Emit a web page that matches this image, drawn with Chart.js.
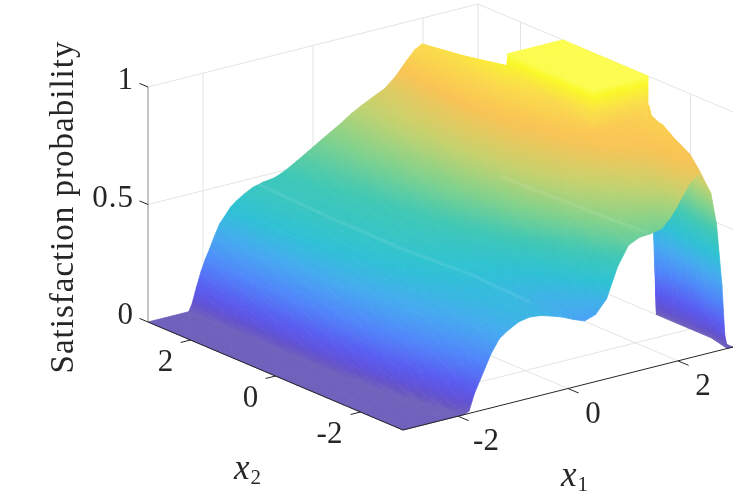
<!DOCTYPE html>
<html lang="en">
<head>
<meta charset="UTF-8">
<title>Satisfaction probability</title>
<style>
  html, body { margin: 0; padding: 0; background: #fff; }
  #wrap { width: 747px; height: 504px; }
</style>
<script src="https://cdn.jsdelivr.net/npm/chart.js"></script>
</head>
<body>
<div id="wrap"><canvas id="chart" width="747" height="504"></canvas></div>
<script>
// surface: one row of z per x2 value, one column per x1 value
const x1Grid = [-3, -2.26, -2.2, -2.12, -2.04, -1.96, -1.88, -1.8, -1.7, -1.6, -1.5, -1.4, -1.25, -1.1, -0.9, -0.7, -0.5, -0.3, -0.1, 0.1, 0.3, 0.5, 0.7, 0.9, 1.1, 1.3, 1.5, 1.7, 1.85, 1.98, 2, 2.2, 2.4, 2.6, 2.7, 2.8, 2.85, 2.9, 3];
const x2Grid = [3, 2, 1.02, 1, 0, -0.5, -1, -1.02, -1.2, -1.6, -2, -2.5, -3];
const zRows = [
  [0, 0, .03, .095, .155, .205, .245, .29, .34, .37, .40, .42, .442, .46, .472, .478, .498, .525, .553, .582, .61, .638, .67, .695, .718, .74, .78, .835, .873, .89, .5, .2, 0, 0, 0, 0, 0, 0, 0],
  [0, 0, .03, .09, .15, .20, .24, .285, .33, .365, .395, .415, .44, .455, .468, .476, .493, .515, .545, .58, .615, .65, .685, .715, .74, .765, .80, .85, .89, .915, .5, .2, 0, 0, 0, 0, 0, 0, 0],
  [0, 0, .025, .085, .14, .19, .23, .27, .315, .35, .38, .40, .425, .44, .455, .465, .48, .50, .53, .57, .61, .65, .69, .725, .755, .78, .815, .86, .915, .95, .5, .2, 0, 0, 0, 0, 0, 0, 0],
  [0, 0, .025, .085, .14, .19, .23, .27, .315, .35, .38, .40, .425, .44, .455, .465, .48, .50, .53, .57, .61, .65, .69, .725, .755, .78, .815, .86, .915, .95, 1, 1, 1, 1, 1, 1, 1, 1, 1],
  [0, 0, .02, .07, .12, .17, .21, .245, .29, .325, .35, .37, .395, .415, .435, .45, .46, .475, .505, .55, .595, .64, .68, .715, .745, .77, .795, .83, .865, .885, 1, 1, 1, 1, 1, 1, 1, 1, 1],
  [0, 0, .012, .055, .10, .15, .19, .225, .27, .305, .33, .35, .375, .395, .415, .43, .44, .452, .48, .52, .57, .62, .665, .705, .735, .76, .78, .81, .84, .86, 1, 1, 1, 1, 1, 1, 1, 1, 1],
  [0, 0, 0, .03, .08, .13, .17, .205, .25, .285, .31, .33, .355, .375, .395, .405, .415, .425, .44, .48, .535, .595, .645, .69, .72, .745, .765, .79, .81, .82, 1, 1, 1, 1, 1, 1, 1, 1, 1],
  [0, 0, 0, .03, .08, .13, .17, .205, .25, .285, .31, .33, .355, .375, .395, .405, .415, .425, .44, .48, .535, .595, .645, .69, .72, .745, .765, .79, .81, .82, .82, .82, .83, .84, .845, .85, .86, .87, .876],
  [0, 0, 0, .025, .07, .12, .16, .195, .24, .275, .30, .32, .345, .365, .385, .395, .405, .41, .425, .46, .52, .585, .635, .68, .71, .735, .755, .78, .80, .81, .81, .82, .825, .835, .84, .85, .85, .855, 0],
  [0, 0, 0, 0, .04, .085, .125, .165, .21, .245, .275, .30, .33, .35, .37, .38, .385, .39, .395, .42, .47, .54, .60, .645, .68, .705, .73, .755, .775, .785, .79, .80, .805, .825, .84, .85, .83, .62, 0],
  [0, 0, 0, 0, 0, .04, .09, .135, .18, .22, .25, .275, .31, .335, .355, .365, .37, .365, .36, .37, .40, .47, .55, .61, .645, .67, .695, .72, .74, .75, .755, .775, .80, .82, .83, .74, .60, .42, 0],
  [0, 0, 0, 0, 0, 0, .04, .085, .13, .175, .215, .25, .295, .32, .345, .355, .355, .345, .33, .325, .335, .385, .46, .55, .60, .625, .64, .665, .69, .71, .715, .76, .795, .805, .70, .50, .28, .12, 0],
  [0, 0, 0, 0, 0, 0, 0, .01, .08, .13, .18, .23, .285, .31, .336, .345, .34, .326, .31, .288, .27, .285, .34, .465, .545, .567, .57, .58, .615, .656, .665, .74, .78, .675, .54, .27, .06, 0, 0]
];

// the two pale creases running across the surface
const creaseA = { x1: [-1, -0.87, -0.73, -0.59, -0.47], x2: [3, 1.5, 0, -1.5, -2.7], z: [.469, .436, .411, .403, .373] };
const creaseB = { x1: [0.7, 0.95, 1.2, 1.45], x2: [-0.5, -1, -2, -3], z: [.67, .636, .604, .577] };

const x1Ticks = [-2, 0, 2];
const x2Ticks = [-2, 0, 2];
const zTicks = [0, 0.5, 1];
const zTickLabels = ['0', '0.5', '1'];
const zLabel = 'Satisfaction probability';

// parula as it looks with the face alpha on white
const palettePos = [0, .015, .05, .1, .2, .3, .4, .5, .6, .7, .8, .9, .97, .995, 1];
const paletteRgb = [
  [112, 98, 188], [102, 84, 192], [96, 82, 220], [90, 92, 240], [80, 135, 250], [70, 170, 240], [46, 194, 212],
  [65, 200, 180], [130, 210, 140], [198, 210, 110], [250, 195, 85], [250, 222, 75], [250, 248, 40], [250, 250, 40], [252, 252, 80]
];

// view of the 3D box: x1, x2 and z unit vectors on the flat scales
const origin = { x: 403, y: 430 };
const unitX1 = { x: 55, y: -13.83 };
const unitX2 = { x: -42.5, y: -18 };
const unitZ = -235;

function project(x1, x2, z) {
  return {
    x: origin.x + (x1 + 3) * unitX1.x + (x2 + 3) * unitX2.x,
    y: origin.y + (x1 + 3) * unitX1.y + (x2 + 3) * unitX2.y + z * unitZ
  };
}

function colorAt(z) {
  const v = Math.min(Math.max(z, 0), 1);
  let i = 0;
  while (i < palettePos.length - 2 && v > palettePos[i + 1]) i++;
  const f = (v - palettePos[i]) / (palettePos[i + 1] - palettePos[i]);
  const a = paletteRgb[i], b = paletteRgb[i + 1];
  return 'rgb(' + [0, 1, 2].map(k => Math.round(a[k] + (b[k] - a[k]) * f)).join(',') + ')';
}

// gradient running along the slope of z over one projected triangle
function triPaint(context, verts) {
  const chart = context.chart;
  const xs = chart.scales.x, ys = chart.scales.y;
  const p = verts.map(v => ({ x: xs.getPixelForValue(v.x), y: ys.getPixelForValue(v.y), z: v.z }));
  const zMin = Math.min(p[0].z, p[1].z, p[2].z), zMax = Math.max(p[0].z, p[1].z, p[2].z);
  if (zMax - zMin < 1e-4 || !isFinite(p[0].x + p[0].y)) return colorAt((zMin + zMax) / 2);
  const ux = p[1].x - p[0].x, uy = p[1].y - p[0].y, uz = p[1].z - p[0].z;
  const vx = p[2].x - p[0].x, vy = p[2].y - p[0].y, vz = p[2].z - p[0].z;
  const det = ux * vy - uy * vx;
  if (Math.abs(det) < 1e-6) return colorAt((zMin + zMax) / 2);
  const gx = (uz * vy - vz * uy) / det, gy = (ux * vz - vx * uz) / det;
  const g2 = gx * gx + gy * gy;
  const low = p.find(q => q.z === zMin);
  const span = zMax - zMin;
  const grad = chart.ctx.createLinearGradient(low.x, low.y, low.x + gx * span / g2, low.y + gy * span / g2);
  const steps = Math.max(1, Math.ceil(span * 30));
  for (let s = 0; s <= steps; s++) grad.addColorStop(s / steps, colorAt(zMin + span * s / steps));
  return grad;
}

function triDataset(a, b, c) {
  const verts = [a, b, c];
  const paint = context => triPaint(context, verts);
  return {
    data: [a, b, c, a].map(v => ({ x: v.x, y: v.y })),
    showLine: true, fill: 'shape', tension: 0, pointRadius: 0,
    borderWidth: 0.8, borderJoinStyle: 'round',
    backgroundColor: paint, borderColor: paint, clip: false
  };
}

function lineDataset(points, color, width) {
  return {
    data: points.map(v => ({ x: v.x, y: v.y })),
    showLine: true, fill: false, tension: 0, pointRadius: 0,
    borderWidth: width, borderColor: color, clip: false
  };
}

function segment(from, to, color, width) {
  return lineDataset([from, to], color, width);
}

const gridColor = '#e4e4e4';
const axisColor = '#262626';
const zAxisColor = '#8a8a8a';
const creaseColor = 'rgba(255,255,255,0.08)';

const axisSets = [];
const gridSets = [];
const surfaceSets = [];

// front axes first so they stay on top, chart.js paints dataset 0 last
x1Ticks.forEach(t => axisSets.push(segment(project(t, -3, 0), project(t, -3.25, 0), axisColor, 1)));
x2Ticks.forEach(t => axisSets.push(segment(project(-3, t, 0), project(-3.18, t, 0), axisColor, 1)));
zTicks.forEach(t => axisSets.push(segment(project(-3, 3, t), project(-3, 3.2, t), axisColor, 1)));
axisSets.push(segment(project(-3, -3, 0), project(3, -3, 0), axisColor, 1));
axisSets.push(segment(project(-3, -3, 0), project(-3, 3, 0), axisColor, 1));
axisSets.push(segment(project(-3, 3, 0), project(-3, 3, 1), zAxisColor, 1));

[creaseA, creaseB].forEach(c => {
  axisSets.push(lineDataset(c.x1.map((x, i) => project(x, c.x2[i], c.z[i])), creaseColor, 3.5));
});

// surface, nearest corner first
for (let r = x2Grid.length - 2; r >= 0; r--) {
  for (let c = 0; c < x1Grid.length - 1; c++) {
    const v = (ri, ci) => Object.assign(project(x1Grid[ci], x2Grid[ri], zRows[ri][ci]), { z: zRows[ri][ci] });
    surfaceSets.push(triDataset(v(r + 1, c), v(r + 1, c + 1), v(r, c + 1)));
    surfaceSets.push(triDataset(v(r + 1, c), v(r, c + 1), v(r, c)));
  }
}

// walls and floor behind everything
x1Ticks.forEach(t => {
  gridSets.push(segment(project(t, -3, 0), project(t, 3, 0), gridColor, 1));
  gridSets.push(segment(project(t, 3, 0), project(t, 3, 1), gridColor, 1));
});
x2Ticks.forEach(t => {
  gridSets.push(segment(project(-3, t, 0), project(3, t, 0), gridColor, 1));
  gridSets.push(segment(project(3, t, 0), project(3, t, 1), gridColor, 1));
});
zTicks.forEach(t => {
  gridSets.push(segment(project(-3, 3, t), project(3, 3, t), gridColor, 1));
  gridSets.push(segment(project(3, 3, t), project(3, -3, t), gridColor, 1));
});
gridSets.push(segment(project(3, 3, 0), project(3, 3, 1), gridColor, 1));

const serif = '"Liberation Serif", serif';
const tickFont = '31px ' + serif;

const labelsPlugin = {
  id: 'boxLabels',
  afterDraw(chart) {
    const ctx = chart.ctx, xs = chart.scales.x, ys = chart.scales.y;
    const put = (p, dx, dy) => ({ x: xs.getPixelForValue(p.x) + dx, y: ys.getPixelForValue(p.y) + dy });
    ctx.save();
    ctx.fillStyle = '#262626';
    ctx.textBaseline = 'middle';
    ctx.font = tickFont;

    ctx.textAlign = 'center';
    x1Ticks.forEach(t => {
      const q = put(project(t, -3, 0), t < 0 ? 28 : 25, 26);
      ctx.fillText(String(t), q.x, q.y);
    });
    x2Ticks.forEach(t => {
      const q = put(project(-3, t, 0), t < 0 ? -31 : -25, 23);
      ctx.fillText(String(t), q.x, q.y);
    });
    ctx.textAlign = 'right';
    ctx.letterSpacing = '1px';
    zTicks.forEach((t, i) => {
      const q = put(project(-3, 3, t), -14, -6);
      ctx.fillText(zTickLabels[i], q.x, q.y);
    });
    ctx.letterSpacing = '0px';

    // x1 and x2 names with subscripts
    ctx.textBaseline = 'alphabetic';
    const axisName = (base, sub, x, y) => {
      ctx.textAlign = 'left';
      ctx.font = 'italic 35px ' + serif;
      ctx.fillText(base, x, y);
      const w = ctx.measureText(base).width;
      ctx.font = '21px ' + serif;
      ctx.fillText(sub, x + w + 1, y + 5);
    };
    axisName('x', '1', 561, 486);
    axisName('x', '2', 234, 479);

    ctx.translate(73, 207);
    ctx.rotate(-Math.PI / 2);
    ctx.textAlign = 'center';
    ctx.font = '33px ' + serif;
    ctx.letterSpacing = '1px';
    ctx.fillText(zLabel, 0, 0);
    ctx.restore();
  }
};

new Chart(document.getElementById('chart'), {
  type: 'scatter',
  data: { datasets: axisSets.concat(surfaceSets, gridSets) },
  options: {
    responsive: false,
    animation: false,
    events: [],
    layout: { padding: 0 },
    plugins: { legend: { display: false }, tooltip: { enabled: false } },
    scales: {
      x: { type: 'linear', display: false, min: 0, max: 747 },
      y: { type: 'linear', display: false, min: 0, max: 504, reverse: true }
    }
  },
  plugins: [labelsPlugin]
});
</script>
</body>
</html>
